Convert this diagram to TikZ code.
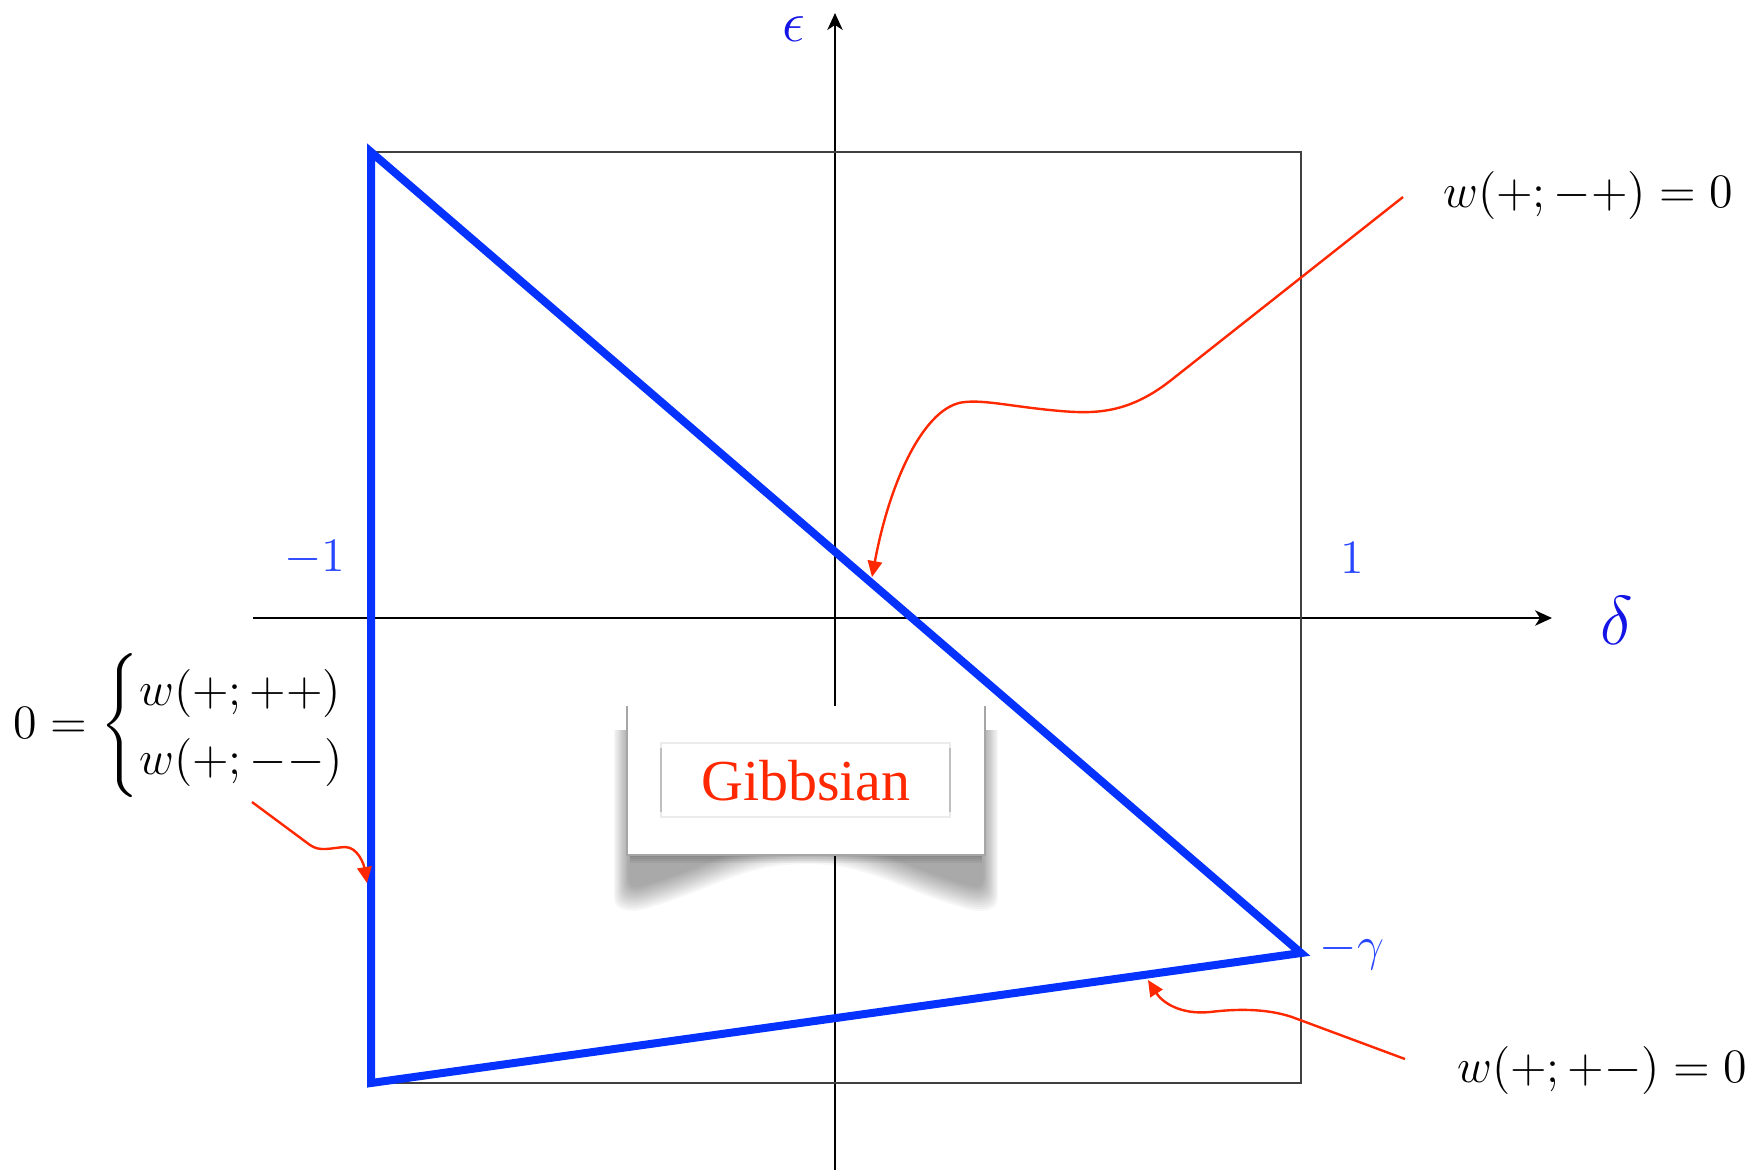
\documentclass[tikz,border=0pt]{standalone}
\usepackage{amsmath}
\usepackage{fontspec}
\newfontfamily\gibbsfont{Liberation Serif}
\usetikzlibrary{arrows.meta}
\definecolor{lineblue}{RGB}{5,50,255}
\definecolor{labelblue}{RGB}{40,70,255}
\definecolor{axisblue}{RGB}{20,20,230}
\definecolor{arrowred}{RGB}{255,40,0}
\tikzset{
  axisline/.style={line width=0.65pt,-{Stealth[length=4.2pt,width=3.8pt,inset=1.2pt]}},
  framebox/.style={line width=0.4pt,black!75},
  triline/.style={lineblue,line width=2pt,line join=miter},
  redarrow/.style={arrowred,line width=0.6pt,-{Triangle[length=4pt,width=3.6pt]}},
  mathlabel/.style={inner sep=0pt},
  tick/.style={text=labelblue,inner sep=0pt},
}
\begin{document}
\begin{tikzpicture}[x=0.25pt,y=-0.25pt,font=\fontsize{12}{14.4}\selectfont]
\useasboundingbox (0,0) rectangle (1756,1170);
% coordinates
\coordinate (xs) at (253,618);
\coordinate (xe) at (1552,618);
\coordinate (ys) at (835,1170);
\coordinate (ye) at (835,13);
\coordinate (TL) at (371,152);
\coordinate (BL) at (371,1083);
\coordinate (BR) at (1301,1083);
\coordinate (TR) at (1301,152);
\coordinate (R) at (1301,953);
% axes and frame
\draw[axisline] (xs) -- (xe);
\draw[axisline] (ys) -- (ye);
\draw[framebox] (TL) rectangle (BR);
% blue triangle
\draw[triline] (TL) -- (BL) -- (R) -- cycle;
% Gibbsian box with curved shadow
\foreach \s in {0,2,...,24}
  \fill[black,opacity=0.032] (614+0.6*\s,730) -- (614+0.6*\s,898-\s)
     .. controls (614+0.6*\s,912-\s) and (632,914-\s) .. (652,907-\s)
     .. controls (715,888-\s) and (745,864-\s) .. (806,864-\s)
     .. controls (867,864-\s) and (897,888-\s) .. (960,907-\s)
     .. controls (980,914-\s) and (998-0.6*\s,912-\s) .. (998-0.6*\s,898-\s)
     -- (998-0.6*\s,730) -- cycle;
\foreach \t in {1,...,4}
  \fill[black,opacity=0.05] (630,855) rectangle (982,855+2*\t);
\fill[white] (627,706) rectangle (985,855);
\draw[black!35,line width=0.6pt] (627,706) -- (627,855) -- (985,855) -- (985,706);
\draw[black!8,line width=0.4pt] (661,743) rectangle (950,817);
\draw[black!25,line width=0.5pt] (661,748) -- (661,812);
\draw[black!25,line width=0.5pt] (950,748) -- (950,812);
\node[text=arrowred,font=\gibbsfont\fontsize{14.5}{17}\selectfont,anchor=base,inner sep=0pt] (gibbs) at (806,800) {Gibbsian};
% labels
\node[text=axisblue,font=\fontsize{14}{16}\selectfont,inner sep=0pt] (eps) at (794,29) {$\epsilon$};
\node[text=axisblue,font=\fontsize{16}{19}\selectfont,inner sep=0pt] (del) at (1617,620) {$\delta$};
\node[tick] (m1) at (315,558) {$-1$};
\node[tick] (p1) at (1352,558) {$1$};
\node[tick] (mg) at (1352,951) {$-\gamma$};
\node[mathlabel] (lab1) at (1588,195) {$w(+;-+)=0$};
\node[mathlabel] (lab2) at (1602,1070) {$w(+;+-)=0$};
\node[mathlabel,anchor=west] (lab3) at (13,726) {$0 = \begin{cases} w(+;++)\\ w(+;--)\end{cases}$};
% red arrows
\coordinate (a1s) at (1403,197);
\coordinate (a1t) at (872,577);
\coordinate (a2s) at (252,802);
\coordinate (a2t) at (367,883);
\coordinate (a3s) at (1405,1059);
\coordinate (a3t) at (1148,980);
\draw[redarrow] (a1s) -- (1170,381)
   .. controls (1125,416) and (1090,414) .. (1050,410)
   .. controls (1010,406) and (985,400) .. (965,402)
   .. controls (925,405) and (890,480) .. (a1t);
\draw[redarrow] (a2s) -- (310,845)
   .. controls (320,852) and (330,848) .. (345,847)
   .. controls (358,847) and (364,865) .. (a2t);
\draw[redarrow] (a3s) -- (1292,1017)
   .. controls (1265,1008) and (1235,1009) .. (1210,1012)
   .. controls (1180,1015) and (1162,1002) .. (a3t);
\end{tikzpicture}
\end{document}
